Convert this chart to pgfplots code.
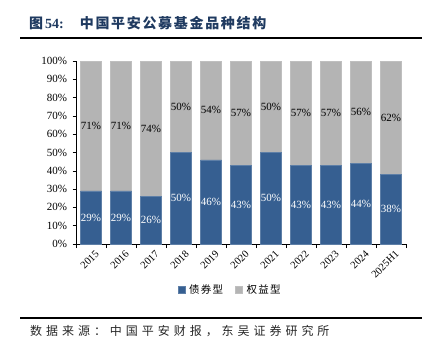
\documentclass[border=0pt]{standalone}
\usepackage{fontspec}
\setmainfont{Liberation Serif}
\newfontfamily\cjk{Noto Sans CJK SC}
\newfontfamily\cjktitle[LetterSpace=12]{Noto Sans CJK SC}
\newfontfamily\cjksrc[LetterSpace=33]{Noto Sans CJK SC}
\newfontfamily\cjkleg[LetterSpace=12]{Noto Sans CJK SC}
\usepackage{pgfplots}
\usepackage{pgfplotstable}
\pgfplotsset{compat=1.18}
\definecolor{bondblue}{HTML}{365F91}
\definecolor{eqgray}{HTML}{B4B4B4}
\definecolor{titleblue}{HTML}{1F3A60}
\pgfplotstableread{
x lab b e
0 2015 29 71
1 2016 29 71
2 2017 26 74
3 2018 50 50
4 2019 46 54
5 2020 43 57
6 2021 50 50
7 2022 43 57
8 2023 43 57
9 2024 44 56
10 2025H1 38 62
}\datatab
\pgfplotstableread{
x bm em b e
0 14.5 64.5 29 71
1 14.5 64.5 29 71
2 13 63 26 74
3 25 75 50 50
4 23 73 46 54
5 21.5 71.5 43 57
6 25 75 50 50
7 21.5 71.5 43 57
8 21.5 71.5 43 57
9 22 72 44 56
10 19 69 38 62
}\labtab
\begin{document}
\begin{tikzpicture}
\path (0pt,0pt) rectangle (433pt,354pt);
\node[anchor=west, text=titleblue, inner sep=0pt] at (29pt,331pt) {\fontsize{14}{16}\selectfont{\cjk\bfseries 图}\hspace{2pt}{\bfseries 54:}\hspace{16pt}{\cjktitle\bfseries 中国平安公募基金品种结构}};
\draw[line width=1.3pt] (20pt,316pt) -- (422pt,316pt);
\draw[line width=1.3pt] (20pt,36pt) -- (422pt,36pt);
\node[anchor=west, inner sep=0pt, text=black!85] at (30pt,23pt) {\cjksrc\fontsize{12}{14}\selectfont 数据来源：中国平安财报，东吴证券研究所};
\begin{axis}[
  at={(76pt,110pt)}, anchor=south west,
  scale only axis, width=330pt, height=183pt,
  xmin=-0.5, xmax=10.5, ymin=0, ymax=100,
  ybar stacked, bar width=21pt,
  axis x line*=bottom, axis y line*=left,
  xtick=data, xticklabels from table={\datatab}{lab},
  xticklabel style={rotate=45, anchor=north east, font=\fontsize{10.5}{12}\selectfont, inner sep=1pt, yshift=-3pt, xshift=2pt},
  major x tick style={draw=none},
  minor xtick={-0.5,0.5,...,10.5},
  ytick={0,10,...,100},
  yticklabel={\pgfmathprintnumber{\tick}\%},
  yticklabel style={font=\fontsize{11}{12}\selectfont, xshift=-2pt},
  /pgf/number format/assume math mode=true,
  tick align=outside, major tick length=3.5pt, minor tick length=4pt,
  tick style={black, line width=0.6pt},
  axis line style={black, line width=0.6pt},
  legend columns=2,
  legend style={at={(0.467,-0.251)}, anchor=center, draw=none, fill=none,
    font=\cjkleg\fontsize{10.5}{12}\selectfont, column sep=5pt, inner sep=0pt,
    /tikz/every odd column/.append style={column sep=2pt},
    /tikz/every even column/.append style={column sep=10pt}},
  legend image code/.code={\fill[#1] (0pt,-3.5pt) rectangle (7pt,3.5pt);},
]
\addplot[fill=bondblue, draw=bondblue!80!white] table[x=x,y=b] {\datatab};
\addlegendentry{债券型}
\addplot[fill=eqgray, draw=eqgray!85!white] table[x=x,y=e] {\datatab};
\addlegendentry{权益型}
\end{axis}
\begin{axis}[
  at={(76pt,110pt)}, anchor=south west,
  scale only axis, width=330pt, height=183pt,
  xmin=-0.5, xmax=10.5, ymin=0, ymax=100,
  hide axis,
  nodes near coords={\pgfmathprintnumber{\pgfplotspointmeta}\%},
  nodes near coords align={center},
  point meta=explicit,
  /pgf/number format/assume math mode=true,
]
\addplot[draw=none, mark=none, every node near coord/.append style={text=white, font=\fontsize{11}{12}\selectfont}] table[x=x,y=bm,meta=b] {\labtab};
\addplot[draw=none, mark=none, every node near coord/.append style={text=black, font=\fontsize{11}{12}\selectfont}] table[x=x,y=em,meta=e] {\labtab};
\end{axis}
\end{tikzpicture}
\end{document}
